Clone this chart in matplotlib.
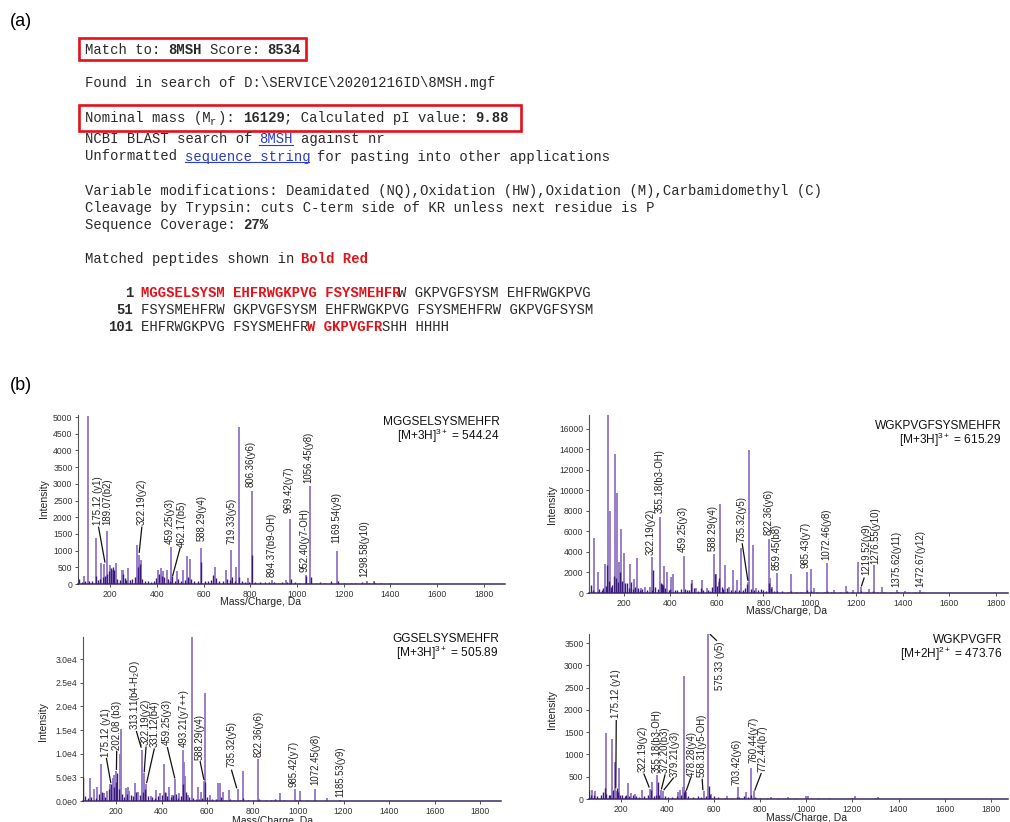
import matplotlib
matplotlib.use("Agg")
import matplotlib.pyplot as plt
from matplotlib.patches import Rectangle

plt.rcParams['font.family'] = ['Liberation Sans', 'DejaVu Sans']
plt.rcParams['mathtext.fontset'] = 'custom'
plt.rcParams['mathtext.rm'] = 'Liberation Sans'
plt.rcParams['mathtext.it'] = 'Liberation Sans:italic'
plt.rcParams['mathtext.bf'] = 'Liberation Sans:bold'

# ---------------------------------------------------------------- data
# Mascot search summary
match_id = "8MSH"
score = "8534"
search_file = r"D:\SERVICE\20201216ID\8MSH.mgf"
nominal_mass = "16129"
pi_value = "9.88"
coverage = "27%"
modifications = "Deamidated (NQ),Oxidation (HW),Oxidation (M),Carbamidomethyl (C)"
cleavage = "cuts C-term side of KR unless next residue is P"

# MS/MS spectrum 1: MGGSELSYSMEHFR
mgg_title = ["MGGSELSYSMEHFR", r"[M+3H]$^{3+}$ = 544.24"]
mgg_mz = [88, 105, 138, 163, 175.12, 189.07, 200, 210, 224, 250, 257, 275, 314, 322.19,
          332, 404, 416, 427, 442, 459.25, 462.17, 486, 514, 528, 544, 588.29, 649, 695,
          719.33, 741, 751, 789, 806.36, 894.37, 952.40, 969.42, 1040, 1056.45, 1169.54,
          1298.58, 1330]
mgg_int = [250, 5020, 1390, 640, 600, 1600, 580, 430, 640, 410, 430, 490, 1160, 870,
           720, 430, 480, 400, 420, 1100, 200, 380, 420, 850, 740, 1070, 510, 410,
           1020, 520, 4700, 170, 2770, 110, 120, 1950, 280, 2940, 1000,
           90, 100]
mgg_noise_mz = [60, 68, 78, 95, 112, 125, 140, 147, 155, 170, 180, 186, 196, 204, 214, 219,
                232, 242, 255, 262, 268, 285, 296, 305, 318, 327, 338, 350, 362, 375, 388,
                396, 409, 421, 433, 448, 456, 466, 478, 493, 505, 520, 533, 548, 560, 575,
                590, 605, 618, 630, 641, 655, 668, 685, 700, 712, 722, 735, 752, 765, 778,
                795, 808, 820, 840, 862, 880, 900, 920, 935, 958, 975, 990, 1010, 1040,
                1060, 1080, 1100, 1120, 1145, 1175, 1200, 1230, 1250, 1280, 1310, 1330,
                1360, 1400]
mgg_noise_int = [280, 150, 60, 100, 80, 100, 250, 120, 150, 200, 250, 300, 400, 480, 500, 420,
                 150, 120, 300, 180, 120, 120, 150, 200, 500, 600, 150, 100, 80, 60, 100,
                 180, 300, 250, 200, 150, 100, 250, 100, 150, 100, 120, 200, 150, 100, 80,
                 650, 80, 100, 120, 270, 180, 100, 80, 150, 120, 200, 100, 200, 80, 60,
                 60, 870, 60, 50, 60, 50, 70, 40, 60, 60, 150, 50, 40, 250,
                 200, 40, 50, 40, 80, 100, 40, 30, 40, 60, 40, 60,
                 30, 20]
mgg_ions = ["175.12 (y1)", "189.07(b2)", "322.19(y2)", "459.25(y3)", "462.17(b5)",
            "588.29(y4)", "719.33(y5)", "806.36(y6)", "894.37(b9-OH)", "969.42(y7)",
            "952.40(y7-OH)", "1056.45(y8)", "1169.54(y9)", "1298.58(y10)"]

# MS/MS spectrum 2: WGKPVGFSYSMEHFR
wgk_title = ["WGKPVGFSYSMEHFR", r"[M+3H]$^{3+}$ = 615.29"]
wgk_mz = [73, 87, 117, 132, 139, 160, 172, 179, 189, 200, 228, 242, 257, 273, 292, 313,
          322.19, 355.18, 374, 384, 403, 413, 459.25, 494, 511, 535, 556, 588.29, 596, 607,
          615, 637, 652, 671, 688, 705, 735.32, 740, 755, 770, 822.36, 828, 839, 859.45,
          917, 985.43, 1003, 1017, 1072.46, 1105, 1155, 1187, 1208, 1219.52, 1253,
          1276.55, 1310, 1375.62, 1410, 1472.67]
wgk_int = [5400, 2080, 2850, 17400, 7950, 13600, 9800, 3000, 6200, 3870, 2850, 1400, 3400,
           450, 600, 600, 3550, 7450, 2600, 2080, 1600, 1900, 3580, 1270, 520, 1230, 520,
           3770, 1900, 1100, 8680, 2730, 600, 2240, 1270, 4420, 1100, 13950, 4680, 520,
           5230, 1430, 620, 1980, 1820, 2080, 2340, 520, 2890, 300, 715, 300, 3050, 550,
           390, 2730, 600, 300, 150, 250]
wgk_noise_mz = [60, 66, 95, 105, 112, 122, 126, 136, 144, 150, 157, 165, 176, 182, 193, 205,
                212, 220, 232, 238, 248, 262, 268, 280, 300, 320, 326, 334, 345, 358, 362,
                368, 378, 392, 400, 420, 430, 446, 462, 470, 482, 490, 500, 520, 530, 540,
                560, 570, 580, 590, 600, 610, 620, 628, 645, 660, 680, 695, 712, 722, 730,
                748, 760, 778, 790, 800, 812, 826, 833, 845, 860, 880, 905, 920, 940, 960,
                988, 1005, 1030, 1060, 1075, 1090, 1130, 1160, 1180, 1220, 1240, 1270,
                1290, 1320, 1350, 1380, 1420, 1450, 1480]
wgk_noise_int = [800, 300, 400, 300, 500, 700, 2700, 1200, 600, 800, 1700, 1500, 1100, 2000,
                 1200, 1000, 1000, 500, 1100, 400, 600, 500, 300, 400, 300, 300, 2200, 600,
                 400, 1000, 900, 800, 500, 300, 400, 300, 300, 400, 400, 300, 300, 1000, 500,
                 200, 500, 300, 300, 200, 600, 1900, 700, 1500, 600, 400, 500, 300, 300, 300,
                 300, 500, 900, 400, 300, 300, 400, 300, 200, 1000, 500, 200, 200, 150, 100,
                 200, 100, 100, 300, 200, 100, 100, 200, 100, 100, 200, 100, 150, 100, 200,
                 100, 100, 50, 100, 50, 50, 60]
wgk_ions = ["322.19(y2)", "355.18(b3-OH)", "459.25(y3)", "588.29(y4)", "735.32(y5)",
            "822.36(y6)", "859.45(b8)", "985.43(y7)", "1072.46(y8)", "1219.52(y9)",
            "1276.55(y10)", "1375.62(y11)", "1472.67(y12)"]

# MS/MS spectrum 3: GGSELSYSMEHFR
ggs_title = ["GGSELSYSMEHFR", r"[M+3H]$^{3+}$ = 505.89"]
ggs_mz = [85, 103, 115, 135, 147, 159, 175.12, 185, 193, 202.08, 218, 224, 243, 251, 259,
          284, 296, 313.11, 322.19, 331.12, 353, 376, 394, 410, 421, 432, 444, 459.25, 479,
          493.21, 499, 504, 515, 534, 560, 573, 588.29, 593, 612, 649, 656, 671, 697,
          735.32, 757, 822.36, 919, 985.42, 1007, 1072.45, 1129, 1185.53]
ggs_int = [4800, 2460, 3000, 7740, 1600, 2100, 3600, 4800, 5500, 6340, 9860, 15140, 2680,
           3030, 2180, 3730, 1970, 10770, 5840, 3520, 1130, 2320, 1760, 7740, 1760, 3030,
           1270, 4580, 1620, 10770, 8170, 5350, 1270, 34700, 3030, 1970, 4300, 22950, 1270,
           3870, 3870, 1970, 2320, 2460, 6340, 8870, 1620, 2460, 2110, 2530, 560, 200]
ggs_noise_mz = [57, 65, 75, 92, 110, 125, 140, 152, 168, 178, 190, 198, 205, 212, 228, 236,
                248, 265, 275, 290, 304, 318, 326, 340, 360, 370, 385, 400, 415, 426, 440,
                452, 465, 472, 487, 495, 507, 520, 540, 550, 566, 580, 590, 600, 620, 640,
                660, 680, 700, 720, 745, 760, 780, 800, 830, 860, 880, 900, 940, 990, 1010,
                1040, 1075, 1100, 1150, 1190, 1230, 1260, 1300]
ggs_noise_int = [5000, 1000, 600, 800, 700, 1500, 2000, 800, 2500, 3500, 3000, 4000, 6000,
                 2500, 1500, 800, 1500, 1200, 1000, 1800, 1200, 2000, 2500, 1000, 800, 600,
                 1000, 1200, 2000, 1000, 800, 1200, 1500, 600, 1000, 3500, 2000, 800, 700,
                 500, 400, 600, 4000, 800, 500, 400, 800, 300, 400, 300, 300, 600, 200, 300,
                 400, 200, 150, 400, 150, 300, 200, 150, 300, 100, 100, 100, 80, 60, 50]
ggs_ions = ["175.12 (y1)", "202.08 (b3)", r"313.11(b4-H$_2$O)", "322.19(y2)", "331.12(b4)",
            "459.25(y3)", "493.21(y7++)", "588.29(y4)", "735.32(y5)", "822.36(y6)",
            "985.42(y7)", "1072.45(y8)", "1185.53(y9)"]

# MS/MS spectrum 4: WGKPVGFR
wgf_title = ["WGKPVGFR", r"[M+2H]$^{2+}$ = 473.76"]
wgf_mz = [72, 86, 132, 161, 173, 175.12, 190, 228, 240, 257, 288, 322.19, 331, 355.18,
          372.20, 379.21, 447, 455, 466, 473, 478.28, 558.31, 575.33, 590, 656, 703.42, 740,
          760.44, 772.44, 850, 920, 1000, 1010, 1210, 1310]
wgf_int = [200, 180, 1490, 1345, 820, 170, 690, 350, 130, 110, 200, 220, 380, 530,
           200, 180, 150, 200, 260, 2760, 150, 170, 3700, 120, 60, 280, 160,
           690, 170, 40, 40, 60, 70, 70, 40]
wgf_noise_mz = [62, 70, 80, 95, 110, 121, 128, 135, 145, 152, 165, 180, 185, 195, 205, 215,
                222, 235, 250, 262, 275, 300, 315, 328, 340, 350, 357, 365, 388, 400, 420,
                440, 460, 470, 476, 490, 510, 530, 545, 565, 578, 585, 600, 620, 650, 680,
                700, 710, 730, 748, 762, 780, 800, 830, 880, 950, 1005, 1050, 1100, 1200,
                1300]
wgf_noise_int = [200, 80, 100, 60, 80, 150, 250, 120, 100, 80, 200, 250, 150, 100, 80, 60,
                 80, 60, 100, 60, 50, 60, 80, 200, 60, 100, 380, 80, 60, 50, 40,
                 60, 100, 150, 200, 60, 50, 60, 40, 60, 300, 80, 60, 40, 30, 30,
                 40, 40, 60, 40, 100, 40, 30, 30, 20, 20, 30, 20, 20, 30,
                 20]
wgf_ions = ["175.12 (y1)", "575.33 (y5)", "322.19(y2)", "355.18(b3-OH)", "372.20(b3)",
            "379.21(y3)", "478.28(y4)", "558.31(y5-OH)", "703.42(y6)", "760.44(y7)",
            "772.44(b7)"]

# ---------------------------------------------------------------- styling
W, H = 1010, 822
TXT = "#2a2a2a"
RED = "#e1141c"
LINK = "#2b3fc0"
BOX = "#e4101a"
LIGHT = "#9579c8"
DARK = "#3c1b78"
MONO = "Liberation Mono"
CW = 8.3            # monospace advance in pixels

fig = plt.figure(figsize=(W / 100, H / 100), dpi=100)
bg = fig.add_axes([0, 0, 1, 1])
bg.set_xlim(0, W)
bg.set_ylim(H, 0)
bg.axis("off")


def mono_line(x0, yc, parts):
    """Draw one line of monospace text built from styled runs."""
    idx = 0
    base = yc + 4.5
    for txt, style in parts:
        lead = len(txt) - len(txt.lstrip(" "))
        body = txt.lstrip(" ")
        x = x0 + (idx + lead) * CW
        if body:
            if style == "sub":
                bg.text(x + 0.5, base + 3, body, fontsize=7.5, family=MONO, color=TXT,
                        va="baseline", ha="left")
            else:
                color = {"n": TXT, "b": TXT, "r": RED, "l": LINK}[style]
                weight = "bold" if style in ("b", "r") else "normal"
                bg.text(x, base, body, fontsize=9.96, family=MONO, weight=weight,
                        color=color, va="baseline", ha="left")
                if style == "l":
                    bg.plot([x, x + len(body) * CW], [base + 2, base + 2], color=LINK, lw=0.8)
        idx += len(txt)


# ---------------------------------------------------------------- panel (a)
bg.text(10, 22, "(a)", fontsize=13, color="black", va="center", ha="left")
bg.text(10, 385, "(b)", fontsize=13, color="black", va="center", ha="left")

X0 = 85
mono_line(X0, 49, [("Match to: ", "n"), (match_id, "b"), (" Score: ", "n"), (score, "b")])
mono_line(X0, 83, [("Found in search of " + search_file, "n")])
mono_line(X0, 117.5, [("Nominal mass (M", "n"), ("r", "sub"), ("): ", "n"), (nominal_mass, "b"),
                      ("; Calculated pI value: ", "n"), (pi_value, "b")])
mono_line(X0, 138.7, [("NCBI BLAST search of ", "n"), (match_id, "l"), (" against nr", "n")])
mono_line(X0, 156, [("Unformatted ", "n"), ("sequence string", "l"),
                    (" for pasting into other applications", "n")])
mono_line(X0, 190, [("Variable modifications: " + modifications, "n")])
mono_line(X0, 207.3, [("Cleavage by Trypsin: " + cleavage, "n")])
mono_line(X0, 224.6, [("Sequence Coverage: ", "n"), (coverage, "b")])
mono_line(X0, 258, [("Matched peptides shown in ", "n"), ("Bold Red", "r")])

S0 = 108
mono_line(S0, 292.3, [("  1", "b"), (" ", "n"), ("MGGSELSYSM EHFRWGKPVG FSYSMEHFR", "r"),
                      ("W GKPVGFSYSM EHFRWGKPVG", "n")])
mono_line(S0, 309.3, [(" 51", "b"),
                      (" FSYSMEHFRW GKPVGFSYSM EHFRWGKPVG FSYSMEHFRW GKPVGFSYSM", "n")])
mono_line(S0, 326.7, [("101", "b"), (" EHFRWGKPVG FSYSMEHFR", "n"), ("W GKPVGFR", "r"),
                      ("SHH HHHH", "n")])

bg.add_patch(Rectangle((79, 38.3), 227, 21.5, fill=False, ec=BOX, lw=1.9))
bg.add_patch(Rectangle((79, 105), 442, 26.5, fill=False, ec=BOX, lw=1.9))


# ---------------------------------------------------------------- panel (b)
def px_rect(left, right, bottom, top):
    return [left / W, (H - bottom) / H, (right - left) / W, (bottom - top) / H]


def spectrum(box, xlim, ylim, yticks, ytlabels, mz, inten, nmz, nint,
             ions, label_xy, leaders, title, title_xy, ylab_xy, xlab_xy):
    ax = fig.add_axes(px_rect(*box))
    ax.patch.set_alpha(0)
    ax.vlines(mz, 0, inten, color=LIGHT, lw=1.35, zorder=2)
    ax.vlines(nmz, 0, nint, color=DARK, lw=1.0, zorder=3)
    ax.set_xlim(*xlim)
    ax.set_ylim(*ylim)
    ax.set_xticks(range(200, 1801, 200))
    ax.set_yticks(yticks)
    ax.set_yticklabels(ytlabels)
    for s in ("top", "right"):
        ax.spines[s].set_visible(False)
    ax.spines["left"].set_color("#555555")
    ax.spines["left"].set_linewidth(0.8)
    ax.spines["bottom"].set_color("#3a2a66")
    ax.spines["bottom"].set_linewidth(1.1)
    ax.tick_params(direction="out", length=2.5, width=0.6, labelsize=6.2,
                   colors="#333333", pad=1.5)
    for text, (lx, ly), ld in zip(ions, label_xy, leaders):
        ax.text(lx, ly, text, rotation=90, ha="center", va="bottom", fontsize=6.9,
                color="#222222", zorder=5)
        if ld is not None:
            ax.plot([ld[0], ld[2]], [ld[1], ld[3]], color="#111111", lw=0.9, zorder=5)
    (tx, ty) = title_xy
    bg.text(tx, ty, title[0], ha="right", va="center", fontsize=8.6, color="#111111")
    bg.text(tx, ty + 14, title[1], ha="right", va="center", fontsize=8.6, color="#111111")
    bg.text(*ylab_xy, "Intensity", rotation=90, ha="center", va="center", fontsize=7.5,
            color="#222222")
    bg.text(*xlab_xy, "Mass/Charge, Da", ha="center", va="center", fontsize=7.5,
            color="#222222")
    return ax


# spectrum 1
spectrum((78, 505, 584, 415), (63, 1890), (0, 5060),
         range(0, 5001, 500), [str(v) for v in range(0, 5001, 500)],
         mgg_mz, mgg_int, mgg_noise_mz, mgg_noise_int, mgg_ions,
         [(149, 1770), (187, 1770), (336, 1770), (456, 1200), (506, 1120), (593, 1300),
          (721, 1200), (802, 2900), (892, 220), (963, 2120), (1030, 370), (1048, 3030),
          (1170, 1240), (1290, 220)],
         [(151, 1700, 178, 660), None, (336, 1700, 325, 950), None, (500, 1080, 468, 250),
          None, None, None, None, None, None, None, None, None],
         mgg_title, (500, 422), (44, 499), (261, 602))

# spectrum 2
spectrum((589, 1008, 593, 414.6), (50, 1852), (0, 17400),
         range(0, 16001, 2000), [str(v) for v in range(0, 16001, 2000)],
         wgk_mz, wgk_int, wgk_noise_mz, wgk_noise_int, wgk_ions,
         [(315, 3700), (352, 7780), (453, 4030), (582, 4130), (707, 5000), (821, 5660),
          (857, 2240), (983, 2400), (1069, 3220), (1241, 1760), (1282, 2850), (1370, 620),
          (1474, 620)],
         [None, None, None, None, (709, 4800, 733, 1250), None, None, None, None,
          (1233, 1450, 1222, 700), None, None, None],
         wgk_title, (1001.7, 426), (551.7, 505), (787, 611))

# spectrum 3
spectrum((83, 501, 801, 637), (55, 1892), (0, 34700),
         range(0, 30001, 5000), ["0.0e0", "5.0e3", "1.0e4", "1.5e4", "2.0e4", "2.5e4", "3.0e4"],
         ggs_mz, ggs_int, ggs_noise_mz, ggs_noise_int, ggs_ions,
         [(156, 9360), (203, 10780), (284, 15000), (332, 11830), (371, 11470), (423, 11830),
          (496, 11470), (566, 8660), (709, 7250), (826, 9360), (979, 3030), (1075, 3380),
          (1185, 900)],
         [(158, 9000, 177, 3900), (203, 10500, 202, 6700), (290, 14700, 310, 11400),
          (332, 11400, 324, 6200), (368, 11000, 335, 3900), (426, 11300, 458, 4900), None,
          (570, 8300, 586, 4600), (708, 6500, 730, 2800), None, None, None, None],
         ggs_title, (499, 639.3), (43.3, 721.7), (273, 821))

# spectrum 4
spectrum((589, 1008, 799, 634), (60, 1874), (0, 3705),
         range(0, 3501, 500), [str(v) for v in range(0, 3501, 500)],
         wgf_mz, wgf_int, wgf_noise_mz, wgf_noise_int, wgf_ions,
         [(178, 1810), (627, 2450), (291, 610), (353, 575), (389, 575), (432, 500),
          (505, 500), (548, 500), (697, 315), (771, 800), (812, 610)],
         [(178, 1760, 176, 260), (612, 3560, 585, 3695), (298, 560, 320, 270), None,
          (389, 540, 374, 230), (425, 470, 385, 210), (500, 470, 482, 200),
          (550, 440, 553, 210), None, None, (805, 570, 778, 200)],
         wgf_title, (1002.7, 640), (551.7, 710), (807, 818))

fig.savefig("out.png", dpi=100)
